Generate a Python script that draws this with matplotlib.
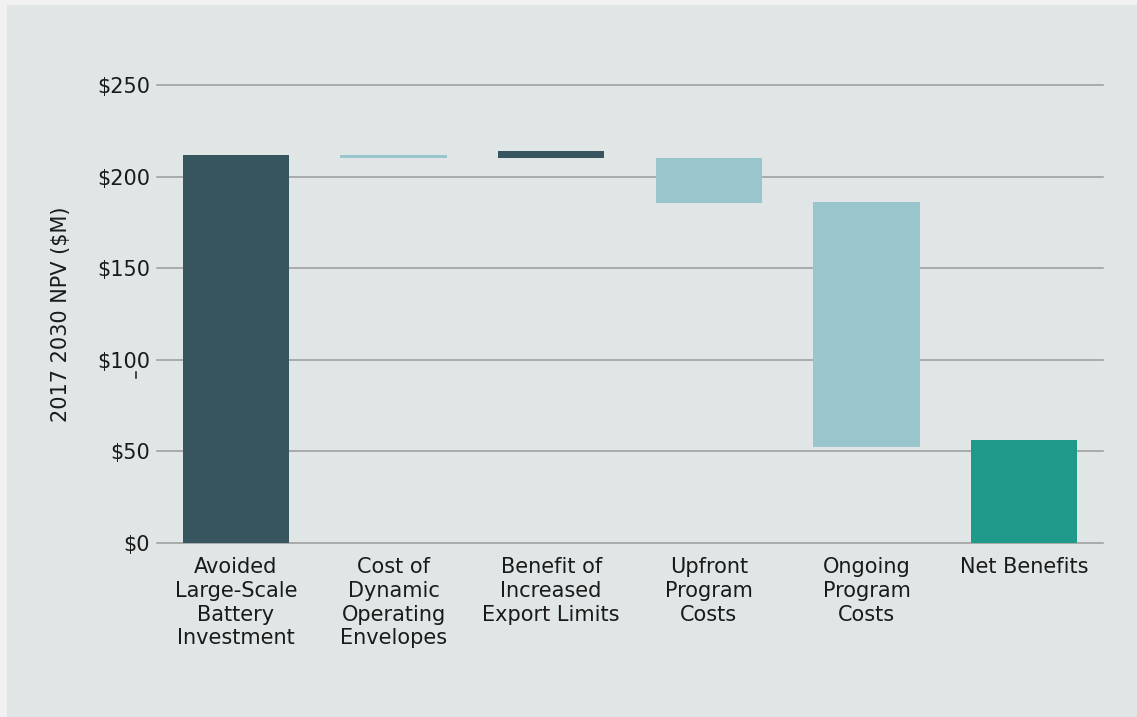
import matplotlib.pyplot as plt
import matplotlib.patches as mpatches
import matplotlib.lines as mlines
import numpy as np

plt.rcParams["font.family"] = ["DejaVu Sans"]

# floating bar extents, $M (2017 2030 NPV)
categories = [
    "Avoided\nLarge-Scale\nBattery\nInvestment",
    "Cost of\nDynamic\nOperating\nEnvelopes",
    "Benefit of\nIncreased\nExport Limits",
    "Upfront\nProgram\nCosts",
    "Ongoing\nProgram\nCosts",
    "Net Benefits",
]
bar_bottom = [0.0, 210.5, 210.5, 186.0, 52.6, 0.0]
bar_top = [212.0, 212.0, 214.2, 210.5, 186.3, 56.3]
yticks = [0, 50, 100, 150, 200, 250]

dark = "#37555F"
light = "#98C6CC"
teal = "#1F998A"
bar_colors = [dark, light, dark, light, light, teal]

panel = "#E0E6E6"
ink = "#1A1A1A"

fig = plt.figure(figsize=(11.37, 7.17), dpi=100, facecolor="#F1F1F1")
fig.patches.append(
    mpatches.Rectangle((7 / 1137, 0), 1, 1 - 5 / 717,
                       transform=fig.transFigure, facecolor=panel,
                       edgecolor="none", zorder=-10)
)

ax = fig.add_axes([0.1381, 0.2427, 0.832, 0.6381])
ax.set_facecolor("none")

x = np.arange(len(categories))
heights = np.array(bar_top) - np.array(bar_bottom)
ax.bar(x, heights, bottom=bar_bottom, width=0.673, color=bar_colors, zorder=3)

ax.set_xlim(-0.5, len(categories) - 0.5)
ax.set_ylim(0, 250)
ax.set_yticks(yticks)
ax.set_yticklabels([f"${v}" for v in yticks])
ax.set_xticks(x)
ax.set_xticklabels(categories, linespacing=1.24, va="top")

ax.yaxis.grid(True, color="#9A9A9A", linewidth=1.1)
for gl in ax.get_ygridlines():
    gl.set_clip_on(False)
ax.set_axisbelow(True)
for s in ax.spines.values():
    s.set_visible(False)

ax.tick_params(axis="y", length=0, pad=5, labelsize=15, labelcolor=ink)
ax.tick_params(axis="x", length=0, pad=10, labelsize=15, labelcolor=ink)

ax.set_ylabel("2017 2030 NPV ($M)", fontsize=15, color=ink, labelpad=19)

# small stray tick below the $100 label
fig.add_artist(mlines.Line2D([136 / 1137, 136 / 1137],
                             [1 - 372 / 717, 1 - 378 / 717],
                             transform=fig.transFigure, color=ink, lw=1.1))

fig.savefig("out.png", dpi=100, facecolor=fig.get_facecolor())
